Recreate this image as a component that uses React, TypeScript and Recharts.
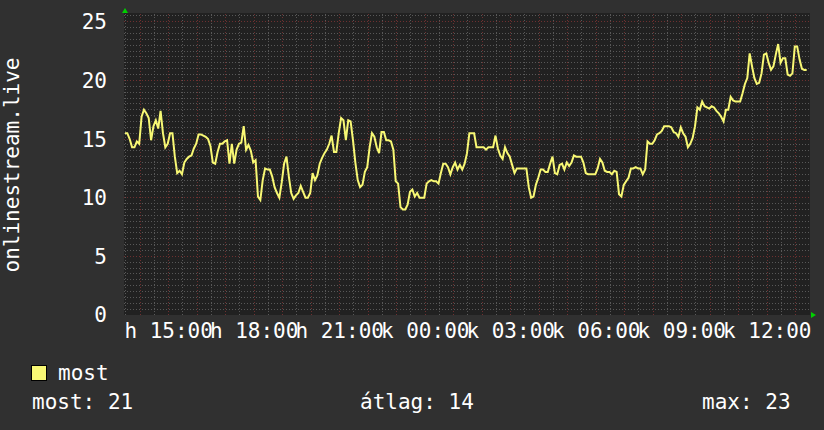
import { LineChart, Line, XAxis, YAxis, ReferenceLine, CartesianGrid } from 'recharts';

// listeners, one reading every 5 minutes, starting just after 13:26 (monday)
const values = [
  15.5, 15.5, 15.0, 14.3, 14.3, 14.8, 14.6, 16.9, 17.5, 17.2,
  16.8, 14.9, 16.1, 16.6, 15.9, 17.4, 15.5, 14.3, 14.6, 15.5,
  15.5, 13.5, 12.1, 12.3, 12.0, 13.0, 13.3, 13.5, 13.6, 14.2,
  14.6, 15.4, 15.4, 15.3, 15.2, 15.0, 14.4, 13.0, 12.9, 13.9,
  14.6, 14.6, 14.8, 14.9, 12.9, 14.6, 12.9, 14.1, 14.6, 14.7,
  16.1, 14.1, 14.5, 14.0, 13.0, 13.2, 10.1, 9.8, 11.5, 12.5,
  12.4, 12.4, 11.8, 10.9, 10.4, 10.0, 11.3, 12.9, 13.5, 11.8,
  10.4, 9.9, 10.2, 10.4, 11.0, 10.5, 10.0, 10.0, 10.4, 12.1,
  11.5, 11.9, 12.9, 13.4, 13.8, 14.1, 14.6, 15.3, 13.9, 13.9,
  15.5, 16.8, 16.6, 14.9, 16.6, 16.5, 14.9, 13.0, 11.5, 10.9,
  11.1, 12.2, 12.6, 14.3, 15.5, 15.2, 14.3, 13.8, 15.6, 15.6,
  14.9, 14.9, 14.8, 14.1, 11.4, 11.2, 9.2, 9.0, 9.0, 9.4,
  10.5, 10.7, 10.1, 10.4, 10.0, 10.0, 10.0, 11.2, 11.4, 11.5,
  11.4, 11.4, 11.2, 12.1, 12.9, 12.9, 12.6, 12.0, 12.6, 13.0,
  12.4, 12.8, 12.4, 12.9, 13.8, 15.5, 15.5, 15.5, 14.3, 14.3,
  14.3, 14.3, 14.1, 14.3, 14.3, 14.3, 15.3, 14.2, 13.6, 13.3,
  14.3, 13.8, 13.5, 12.8, 12.1, 12.5, 12.5, 12.5, 12.5, 12.5,
  10.9, 10.0, 10.1, 11.1, 11.7, 12.4, 12.4, 12.2, 12.2, 12.9,
  13.5, 12.1, 12.0, 12.8, 12.9, 12.4, 13.0, 12.7, 13.0, 13.6,
  13.5, 13.5, 13.5, 13.0, 12.1, 12.0, 12.0, 12.0, 12.0, 12.5,
  13.3, 13.0, 12.3, 12.2, 12.2, 12.0, 12.3, 12.2, 10.3, 10.1,
  11.1, 11.4, 11.7, 12.5, 12.5, 12.6, 12.5, 12.5, 12.0, 12.4,
  14.8, 14.6, 14.6, 14.9, 15.4, 15.5, 15.7, 16.1, 16.1, 16.1,
  16.0, 15.6, 15.5, 15.2, 16.0, 15.5, 15.2, 14.3, 14.6, 15.1,
  16.1, 17.7, 17.5, 18.2, 17.8, 17.7, 17.6, 17.8, 17.7, 17.4,
  17.2, 16.9, 16.5, 17.5, 17.5, 18.6, 18.3, 18.2, 18.2, 18.2,
  18.9, 19.7, 20.2, 22.3, 21.2, 20.2, 19.7, 19.8, 20.6, 22.2,
  22.3, 21.5, 20.9, 21.2, 22.2, 23.1, 21.5, 21.9, 21.9, 20.5,
  20.4, 20.6, 22.9, 22.9, 21.8, 21.0, 20.9, 20.9,
];

// time axis in minutes after 13:26
const firstMinute = 2;
const stepMinutes = 5;
const spanMinutes = 1444;
const xTicks = [94, 274, 454, 634, 814, 994, 1174, 1354];
const xTickLabels = ['h 15:00', 'h 18:00', 'h 21:00', 'k 00:00', 'k 03:00', 'k 06:00', 'k 09:00', 'k 12:00'];
const yTicks = [0, 5, 10, 15, 20, 25];
const yMax = 25.75;

const legendName = 'most';
const legendStats = [
  { label: 'most', value: 21 },
  { label: 'átlag', value: 14 },
  { label: 'max', value: 23 },
];
const axisTitle = 'onlinestream.live';

const data = values.map((v, i) => ({ t: firstMinute + i * stepMinutes, v }));

// grid: major every hour (from 14:00), minor every half hour; y minor every 0.5
const hourLines: number[] = [];
const halfHourLines: number[] = [];
for (let m = 4; m < spanMinutes; m += 30) {
  if ((m - 34) % 60 === 0) hourLines.push(m);
  else halfHourLines.push(m);
}
const yMajor: number[] = [5, 10, 15, 20, 25];
const yMinor: number[] = [];
for (let k = 1; k <= 51; k++) {
  if (k % 10 !== 0) yMinor.push(k / 2);
}

const FONT = '"DejaVu Sans Mono", monospace';
const MINOR = '#585858';
const MAJOR = '#6e3030';
const LINE = '#f8f874';

export default function App() {
  return (
    <div style={{ position: 'fixed', left: 0, top: 0, width: 824, height: 430, background: '#303030' }}>
      <LineChart width={824} height={430} data={data} margin={{ top: 13, right: 14, left: 0, bottom: 0 }}>
        <CartesianGrid fill="#212121" horizontal={false} vertical={false} />
        <XAxis
          dataKey="t"
          type="number"
          domain={[0, spanMinutes]}
          ticks={xTicks}
          interval={0}
          tickFormatter={(v: number) => xTickLabels[xTicks.indexOf(v)]}
          axisLine={false}
          tickLine={false}
          tickSize={0}
          tickMargin={8}
          height={115}
          tick={{ fill: '#ffffff', fontSize: 21, fontFamily: FONT }}
        />
        <YAxis
          type="number"
          domain={[0, yMax]}
          ticks={yTicks}
          interval={0}
          width={124}
          axisLine={false}
          tickLine={false}
          tickSize={0}
          tickMargin={17}
          tick={{ fill: '#ffffff', fontSize: 21, fontFamily: FONT }}
        />
        {halfHourLines.map((m) => (
          <ReferenceLine key={'hh' + m} x={m} stroke={MINOR} strokeDasharray="1 2" shapeRendering="crispEdges" />
        ))}
        {yMinor.map((y) => (
          <ReferenceLine key={'ym' + y} y={y} stroke={MINOR} strokeDasharray="1 2" shapeRendering="crispEdges" />
        ))}
        {hourLines.map((m) => (
          <ReferenceLine key={'h' + m} x={m} stroke={MAJOR} strokeDasharray="1 2" shapeRendering="crispEdges" />
        ))}
        {yMajor.map((y) => (
          <ReferenceLine key={'yM' + y} y={y} stroke={MAJOR} strokeDasharray="1 2" shapeRendering="crispEdges" />
        ))}
        <Line
          dataKey="v"
          type="linear"
          stroke={LINE}
          strokeWidth={2}
          dot={false}
          isAnimationActive={false}
        />
      </LineChart>
      <svg width={824} height={430} style={{ position: 'absolute', left: 0, top: 0, pointerEvents: 'none' }}>
        <text
          transform="translate(18.5,165) rotate(-90)"
          textAnchor="middle"
          fill="#ffffff"
          fontFamily={FONT}
          fontSize={21}
        >
          {axisTitle}
        </text>
        <polygon points="122,13 128,13 125,8" fill="#00d000" />
        <polygon points="811,312 811,318 816,315" fill="#00d000" />
        <rect x={31.5} y={365.5} width={15} height={15} fill={LINE} stroke="#000" strokeWidth={1} />
        <text x={58} y={380} fill="#ffffff" fontFamily={FONT} fontSize={21}>{legendName}</text>
        <text x={32} y={409} fill="#ffffff" fontFamily={FONT} fontSize={21}>
          {legendStats[0].label}: {legendStats[0].value}
        </text>
        <text x={360} y={409} fill="#ffffff" fontFamily={FONT} fontSize={21}>
          {legendStats[1].label}: {legendStats[1].value}
        </text>
        <text x={702} y={409} fill="#ffffff" fontFamily={FONT} fontSize={21}>
          {legendStats[2].label}: {legendStats[2].value}
        </text>
      </svg>
    </div>
  );
}
